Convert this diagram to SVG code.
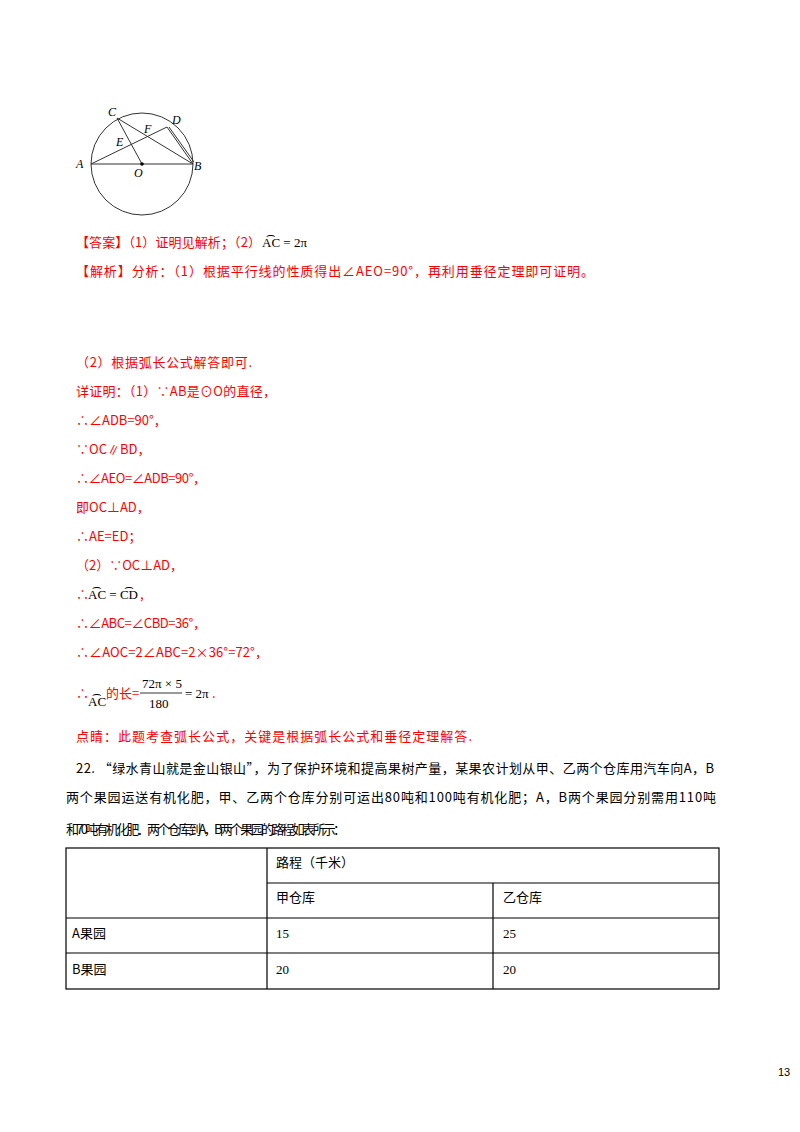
<svg xmlns="http://www.w3.org/2000/svg" width="800" height="1132" viewBox="0 0 800 1132">
<style>
.r{fill:#ff0000;font-family:"Noto Sans CJK SC","Liberation Serif",serif;font-size:13px}
.k{fill:#000;font-family:"Noto Sans CJK SC","Liberation Serif",serif;font-size:13px}
.m{font-family:"Liberation Serif",serif;font-size:13px;fill:#000}
.lb{font-family:"Liberation Serif",serif;font-style:italic;font-size:12px;fill:#000}
.ln{stroke:#333;stroke-width:1;fill:none}
.t{stroke:#000;stroke-width:1.2;fill:none}
</style>
<rect width="800" height="1132" fill="#fff"/>
<g id="figure">
<circle class="ln" cx="142" cy="164" r="51"/>
<line class="ln" x1="91" y1="164" x2="193" y2="164" stroke-width="2"/>
<line class="ln" x1="117" y1="118" x2="142" y2="164"/>
<line class="ln" x1="117" y1="118" x2="193" y2="164"/>
<line class="ln" x1="91" y1="164" x2="167" y2="127"/>
<line class="ln" x1="167" y1="127" x2="193" y2="164"/>
<line class="ln" x1="169" y1="127" x2="194" y2="162"/>
<circle cx="142" cy="164" r="1.8" fill="#000"/>
<text class="lb" x="108" y="116">C</text>
<text class="lb" x="172" y="124">D</text>
<text class="lb" x="144" y="133">F</text>
<text class="lb" x="116" y="146">E</text>
<text class="lb" x="76" y="168">A</text>
<text class="lb" x="194" y="170">B</text>
<text class="lb" x="134" y="177">O</text>
</g>
<g id="text">
<text class="r" x="76" y="247" textLength="185">【答案】（1）证明见解析；（2）</text>
<text class="m" x="262" y="247">A͡C = 2π</text>
<text class="r" x="76" y="276" textLength="518">【解析】分析：（1）根据平行线的性质得出∠AEO=90°，再利用垂径定理即可证明。</text>
<text class="r" x="76" y="367" textLength="176">（2）根据弧长公式解答即可.</text>
<text class="r" x="76" y="396" textLength="200">详证明：（1）∵AB是⊙O的直径，</text>
<text class="r" x="76" y="425">∴∠ADB=90°，</text>
<text class="r" x="76" y="454">∵OC∥BD，</text>
<text class="r" x="76" y="483" textLength="130">∴∠AEO=∠ADB=90°，</text>
<text class="r" x="76" y="512">即OC⊥AD，</text>
<text class="r" x="76" y="541">∴AE=ED；</text>
<text class="r" x="76" y="570">（2）∵OC⊥AD，</text>
<text class="r" x="76" y="599">∴</text><text class="m" x="88" y="599">A͡C = C͡D</text><text class="r" x="140" y="599">,</text>
<text class="r" x="76" y="628" textLength="130">∴∠ABC=∠CBD=36°，</text>
<text class="r" x="76" y="657" textLength="192">∴∠AOC=2∠ABC=2×36°=72°，</text>
<text class="r" x="76" y="698">∴</text><text class="m" x="88" y="706">A͡C</text><text class="r" x="106" y="698">的长=</text>
<text class="m" x="142" y="688">72π × 5</text>
<line x1="140" y1="693" x2="182" y2="693" stroke="#000" stroke-width="0.8"/>
<text class="m" x="149" y="708">180</text>
<text class="m" x="185" y="698">= 2π</text><text class="r" x="212" y="698">.</text>
<text class="r" x="76" y="741" textLength="396">点睛：此题考查弧长公式，关键是根据弧长公式和垂径定理解答.</text>
<text class="k" x="76" y="773" textLength="638">22. “绿水青山就是金山银山”，为了保护环境和提高果树产量，某果农计划从甲、乙两个仓库用汽车向A，B</text>
<text class="k" x="66" y="802" textLength="650">两个果园运送有机化肥，甲、乙两个仓库分别可运出80吨和100吨有机化肥；A，B两个果园分别需用110吨</text>
<text class="k" x="66" y="834" textLength="280">和70吨有机化肥．两个仓库到A，B两个果园的路程如表所示：</text>
</g>
<g id="table">
<rect class="t" x="66" y="848" width="653" height="141"/>
<line class="t" x1="267" y1="848" x2="267" y2="989"/>
<line class="t" x1="493" y1="883" x2="493" y2="989"/>
<line class="t" x1="267" y1="883" x2="719" y2="883"/>
<line class="t" x1="66" y1="918" x2="719" y2="918"/>
<line class="t" x1="66" y1="953" x2="719" y2="953"/>
<text class="k" x="276" y="867">路程（千米）</text>
<text class="k" x="276" y="902">甲仓库</text>
<text class="k" x="503" y="902">乙仓库</text>
<text class="k" x="72" y="938">A果园</text>
<text class="m" x="276" y="938">15</text>
<text class="m" x="503" y="938">25</text>
<text class="k" x="72" y="974">B果园</text>
<text class="m" x="276" y="974">20</text>
<text class="m" x="503" y="974">20</text>
</g>
<text x="778" y="1076" font-family="Liberation Sans,sans-serif" font-size="11" fill="#000">13</text>
</svg>
